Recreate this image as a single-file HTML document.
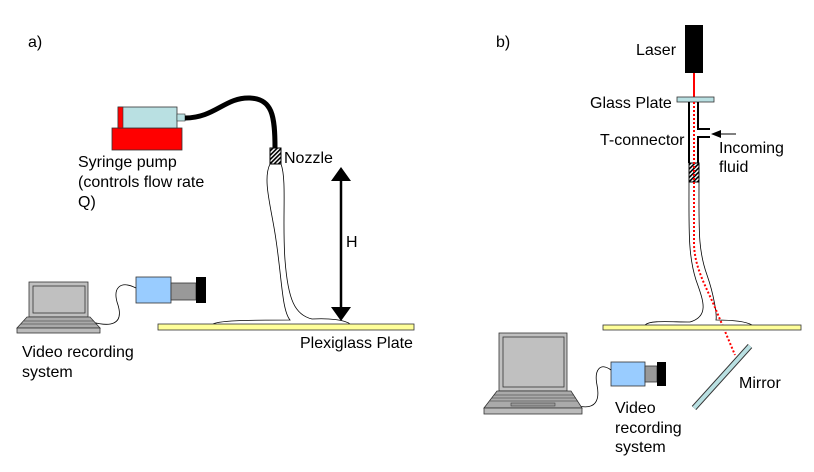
<!DOCTYPE html>
<html><head><style>
body{margin:0;background:#fff}
svg{display:block}
text{font-family:"Liberation Sans",sans-serif;font-size:16px;fill:#000}
</style></head><body>
<svg width="814" height="472" viewBox="0 0 814 472" xmlns="http://www.w3.org/2000/svg">
<defs>
<pattern id="h" width="3" height="3" patternUnits="userSpaceOnUse" patternTransform="rotate(45)">
<rect width="3" height="3" fill="#fff"/><rect width="1.6" height="3" fill="#000"/></pattern>
<marker id="ah" markerWidth="10" markerHeight="10" refX="9" refY="5" orient="auto" markerUnits="userSpaceOnUse"><path d="M0,1 L10,5 L0,9 Z" fill="#000"/></marker>
</defs>
<text x="28" y="47" font-size="19">a)</text>
<text x="496" y="47" font-size="19">b)</text>

<!-- Panel a -->
<rect x="112" y="128" width="70" height="22" fill="#f00" stroke="#333" stroke-width="0.8"/>
<rect x="118" y="107" width="59" height="21" fill="#b9e0e2" stroke="#333" stroke-width="0.8"/>
<rect x="118" y="107" width="5" height="21" fill="#f00" stroke="#333" stroke-width="0.6"/>
<rect x="177" y="114" width="8" height="7" fill="#b9e0e2" stroke="#333" stroke-width="0.6"/>
<path d="M185,118 C215,118 225,97 250,98 C272,99 275,115 275,148" fill="none" stroke="#000" stroke-width="5"/>
<rect x="270" y="148" width="11" height="16" fill="url(#h)" stroke="#000" stroke-width="1"/>
<text x="284" y="163">Nozzle</text>
<path d="M270,164 C262,180 272,210 276,240 C282,280 282,310 290,320 C260,320 220,320 213,324 M281,164 C287,180 282,220 285,260 C288,300 295,315 312,319 C330,318 345,320 350,324" fill="none" stroke="#000" stroke-width="0.8"/>
<line x1="341" y1="180" x2="341" y2="308" stroke="#000" stroke-width="2.5"/>
<path d="M331,181 L341,167 L351,181 Z M331,307 L341,321 L351,307 Z" fill="#000"/>
<text x="346" y="247" font-size="19">H</text>
<rect x="158" y="324" width="256" height="6" fill="#ffff99" stroke="#333" stroke-width="0.8"/>
<text x="300" y="348">Plexiglass Plate</text>
<text x="78" y="167">Syringe pump</text>
<text x="78" y="187">(controls flow rate</text>
<text x="78" y="207">Q)</text>
<!-- camera a -->
<rect x="136" y="277" width="35" height="26" fill="#99ccff" stroke="#333" stroke-width="0.8"/>
<rect x="171" y="283" width="25" height="17" fill="#999" stroke="#333" stroke-width="0.8"/>
<rect x="196" y="277" width="10" height="26" fill="#000"/>
<path d="M136,288 C120,280 112,288 118,305 C124,325 110,327 92,322" fill="none" stroke="#000" stroke-width="0.8"/>
<!-- laptop a -->
<rect x="29" y="282" width="59" height="35" fill="#c0c0c0" stroke="#333" stroke-width="0.8"/>
<rect x="33" y="286" width="52" height="27" fill="#c0c0c0" stroke="#333" stroke-width="0.8"/>
<path d="M27,317 L90,317 L100,328 L17,328 Z" fill="#aaa" stroke="#333" stroke-width="0.8"/>
<line x1="24" y1="321" x2="94" y2="321" stroke="#333" stroke-width="0.6"/>
<line x1="21" y1="324" x2="97" y2="324" stroke="#333" stroke-width="0.6"/>
<rect x="17" y="328" width="83" height="5" fill="#bbb" stroke="#333" stroke-width="0.8"/>
<text x="22" y="357">Video recording</text>
<text x="22" y="377">system</text>

<!-- Panel b -->
<rect x="685" y="25" width="18" height="48" fill="#000"/>
<line x1="694" y1="73" x2="694" y2="97" stroke="#f00" stroke-width="2"/>
<rect x="677" y="97" width="37" height="5" fill="#b9e0e2" stroke="#333" stroke-width="0.8"/>
<path d="M689,102 L689,163 M698,102 L698,129 L710,129 M710,137 L698,137 L698,163" fill="none" stroke="#000" stroke-width="2"/>
<rect x="689" y="163" width="10" height="19" fill="url(#h)" stroke="#000" stroke-width="1"/>
<line x1="736" y1="134" x2="712" y2="134" stroke="#000" stroke-width="1" marker-end="url(#ah)"/>
<path d="M689,182 C689,230 688,255 696,280 C703,300 710,316 690,322 C670,322 650,320 645,325 M699,182 C699,230 698,250 707,275 C714,295 717,315 716,320 C730,320 745,321 752,325" fill="none" stroke="#000" stroke-width="0.8"/>
<path d="M694,102 L694,245 C695,270 708,290 716,310 L735,355" fill="none" stroke="#f00" stroke-width="2" stroke-dasharray="2,2"/>
<rect x="603" y="325" width="198" height="5" fill="#ffff99" stroke="#333" stroke-width="0.8"/>
<line x1="750" y1="346" x2="694" y2="408" stroke="#333" stroke-width="6"/>
<line x1="750" y1="346" x2="694" y2="408" stroke="#b9e0e2" stroke-width="4"/>
<text x="636" y="55">Laser</text>
<text x="590" y="108">Glass Plate</text>
<text x="600" y="145">T-connector</text>
<text x="719" y="153">Incoming</text>
<text x="719" y="172">fluid</text>
<text x="739" y="388">Mirror</text>
<text x="615" y="413">Video</text>
<text x="615" y="433">recording</text>
<text x="615" y="452">system</text>
<!-- camera b -->
<rect x="611" y="362" width="34" height="24" fill="#99ccff" stroke="#333" stroke-width="0.8"/>
<rect x="645" y="366" width="12" height="16" fill="#999" stroke="#333" stroke-width="0.8"/>
<rect x="657" y="362" width="9" height="24" fill="#000"/>
<path d="M611,370 C600,362 594,370 597,385 C600,400 596,410 578,406" fill="none" stroke="#000" stroke-width="0.8"/>
<!-- laptop b -->
<rect x="499" y="333" width="68" height="58" fill="#c0c0c0" stroke="#333" stroke-width="0.8"/>
<rect x="503" y="337" width="61" height="50" fill="#c0c0c0" stroke="#333" stroke-width="0.8"/>
<path d="M497,391 L571,391 L582,408 L484,408 Z" fill="#aaa" stroke="#333" stroke-width="0.8"/>
<line x1="494" y1="395" x2="574" y2="395" stroke="#333" stroke-width="0.6"/>
<line x1="492" y1="398" x2="576" y2="398" stroke="#333" stroke-width="0.6"/>
<line x1="490" y1="401" x2="578" y2="401" stroke="#333" stroke-width="0.6"/>
<rect x="511" y="403" width="44" height="3" fill="#999" stroke="#333" stroke-width="0.5"/>
<rect x="484" y="408" width="98" height="6" fill="#bbb" stroke="#333" stroke-width="0.8"/>
</svg>
</body></html>
